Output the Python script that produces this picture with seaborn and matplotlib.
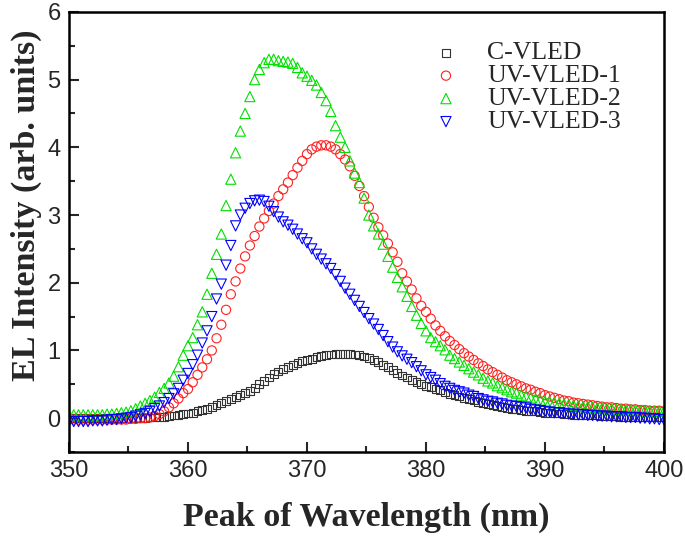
import numpy as np
import pandas as pd
import seaborn as sns
import matplotlib.pyplot as plt
from matplotlib.ticker import MultipleLocator

# wavelength grid (nm), one reading every 0.4 nm
wavelength = np.round(np.arange(350.0, 400.01, 0.4), 1)

# EL intensity (arb. units)
c_vled = [
    0.00, 0.00, 0.00, 0.00, 0.00, 0.00, 0.00, 0.00, 0.00, 0.00,
    0.00, 0.00, 0.00, 0.00, 0.00, 0.00, 0.00, 0.01, 0.01, 0.02,
    0.02, 0.03, 0.04, 0.05, 0.06, 0.07, 0.08, 0.10, 0.12, 0.14,
    0.17, 0.20, 0.22, 0.25, 0.28, 0.31, 0.34, 0.37, 0.40, 0.45,
    0.50, 0.55, 0.60, 0.65, 0.69, 0.72, 0.75, 0.78, 0.81, 0.84,
    0.86, 0.88, 0.90, 0.92, 0.93, 0.94, 0.95, 0.95, 0.95, 0.95,
    0.94, 0.93, 0.91, 0.89, 0.86, 0.83, 0.79, 0.75, 0.71, 0.67,
    0.63, 0.60, 0.57, 0.54, 0.51, 0.48, 0.46, 0.43, 0.41, 0.38,
    0.36, 0.34, 0.32, 0.30, 0.28, 0.26, 0.24, 0.22, 0.21, 0.19,
    0.18, 0.16, 0.15, 0.14, 0.13, 0.12, 0.11, 0.10, 0.10, 0.09,
    0.08, 0.08, 0.07, 0.07, 0.06, 0.06, 0.05, 0.05, 0.05, 0.04,
    0.04, 0.04, 0.03, 0.03, 0.03, 0.03, 0.02, 0.02, 0.02, 0.02,
    0.02, 0.01, 0.01, 0.01, 0.01, 0.01,
]
uv_vled_1 = [
    -0.02, -0.02, -0.02, -0.02, -0.02, -0.02, -0.02, -0.02, -0.02, -0.02,
    -0.02, -0.02, -0.02, -0.01, -0.01, 0.00, 0.00, 0.01, 0.03, 0.06,
    0.10, 0.16, 0.22, 0.29, 0.37, 0.43, 0.53, 0.64, 0.75, 0.87,
    1.00, 1.18, 1.38, 1.60, 1.83, 2.02, 2.21, 2.39, 2.55, 2.69,
    2.83, 2.95, 3.06, 3.17, 3.28, 3.38, 3.48, 3.59, 3.70, 3.80,
    3.90, 3.97, 4.01, 4.03, 4.03, 4.01, 3.97, 3.90, 3.82, 3.72,
    3.58, 3.43, 3.28, 3.12, 2.96, 2.82, 2.70, 2.58, 2.45, 2.31,
    2.14, 2.02, 1.90, 1.77, 1.66, 1.57, 1.47, 1.37, 1.29, 1.21,
    1.14, 1.08, 1.02, 0.96, 0.91, 0.86, 0.81, 0.77, 0.72, 0.68,
    0.64, 0.60, 0.56, 0.53, 0.50, 0.47, 0.44, 0.42, 0.39, 0.37,
    0.34, 0.32, 0.30, 0.28, 0.26, 0.25, 0.23, 0.22, 0.21, 0.20,
    0.19, 0.18, 0.17, 0.16, 0.16, 0.15, 0.14, 0.14, 0.13, 0.13,
    0.12, 0.12, 0.11, 0.11, 0.11, 0.10,
]
uv_vled_2 = [
    0.05, 0.05, 0.05, 0.05, 0.05, 0.05, 0.05, 0.05, 0.06, 0.06,
    0.07, 0.08, 0.09, 0.11, 0.14, 0.18, 0.22, 0.26, 0.31, 0.38,
    0.44, 0.52, 0.62, 0.76, 0.93, 1.07, 1.19, 1.38, 1.57, 1.83,
    2.14, 2.42, 2.72, 3.14, 3.53, 3.92, 4.24, 4.50, 4.75, 5.00,
    5.15, 5.25, 5.30, 5.30, 5.28, 5.27, 5.26, 5.24, 5.18, 5.10,
    5.05, 4.99, 4.92, 4.81, 4.69, 4.53, 4.32, 4.15, 4.00, 3.80,
    3.62, 3.48, 3.25, 3.00, 2.84, 2.72, 2.57, 2.39, 2.23, 2.08,
    1.94, 1.80, 1.65, 1.52, 1.40, 1.29, 1.19, 1.13, 1.07, 1.01,
    0.93, 0.88, 0.83, 0.78, 0.73, 0.68, 0.64, 0.59, 0.55, 0.52,
    0.48, 0.45, 0.42, 0.39, 0.37, 0.34, 0.32, 0.30, 0.28, 0.27,
    0.25, 0.24, 0.23, 0.22, 0.21, 0.20, 0.19, 0.18, 0.17, 0.17,
    0.16, 0.15, 0.15, 0.14, 0.14, 0.13, 0.13, 0.12, 0.12, 0.12,
    0.11, 0.11, 0.11, 0.10, 0.10, 0.10,
]
uv_vled_3 = [
    -0.05, -0.05, -0.05, -0.05, -0.05, -0.04, -0.04, -0.04, -0.03, -0.02,
    -0.02, -0.01, 0.00, 0.01, 0.03, 0.05, 0.07, 0.10, 0.14, 0.18,
    0.23, 0.29, 0.36, 0.44, 0.56, 0.66, 0.79, 0.93, 1.11, 1.29,
    1.50, 1.76, 1.98, 2.26, 2.55, 2.84, 3.00, 3.10, 3.17, 3.21,
    3.22, 3.20, 3.13, 3.05, 2.97, 2.90, 2.85, 2.79, 2.72, 2.65,
    2.59, 2.50, 2.42, 2.35, 2.28, 2.21, 2.12, 2.02, 1.92, 1.83,
    1.74, 1.65, 1.56, 1.47, 1.39, 1.31, 1.22, 1.13, 1.05, 0.98,
    0.92, 0.87, 0.82, 0.76, 0.70, 0.64, 0.60, 0.56, 0.51, 0.47,
    0.44, 0.41, 0.39, 0.37, 0.34, 0.32, 0.29, 0.27, 0.25, 0.24,
    0.22, 0.21, 0.19, 0.18, 0.17, 0.16, 0.15, 0.13, 0.12, 0.11,
    0.10, 0.09, 0.08, 0.08, 0.07, 0.06, 0.06, 0.05, 0.05, 0.04,
    0.04, 0.03, 0.03, 0.03, 0.02, 0.02, 0.02, 0.01, 0.01, 0.01,
    0.00, 0.00, -0.01, -0.01, -0.02, -0.02,
]

series_names = ['C-VLED', 'UV-VLED-1', 'UV-VLED-2', 'UV-VLED-3']
series_values = [c_vled, uv_vled_1, uv_vled_2, uv_vled_3]
colors = ['#333333', '#ff2020', '#00e000', '#0000ff']
markers = ['s', 'o', '^', 'v']
sizes = [32, 44, 54, 54]

sns.set_style('ticks')
plt.rcParams['font.family'] = ['Liberation Sans', 'DejaVu Sans']

fig = plt.figure(figsize=(6.85, 5.42), dpi=100)
ax = fig.add_axes([0.1007, 0.166, 0.8686, 0.812])

for name, vals, col, mk, sz in zip(series_names, series_values, colors, markers, sizes):
    df = pd.DataFrame({'wavelength': wavelength, 'intensity': vals})
    sns.scatterplot(data=df, x='wavelength', y='intensity', ax=ax, color=col,
                    marker=mk, s=sz, facecolors='none', edgecolor=col,
                    linewidth=0.8, label=name)

ax.set_xlim(350, 400)
ax.set_ylim(-0.5, 6)
ax.xaxis.set_major_locator(MultipleLocator(10))
ax.xaxis.set_minor_locator(MultipleLocator(5))
ax.yaxis.set_major_locator(MultipleLocator(1))
ax.yaxis.set_minor_locator(MultipleLocator(0.5))
ax.tick_params(which='both', direction='in', width=1.5, labelsize=17,
               top=False, right=False)
ax.tick_params(which='major', length=7, pad=6)
ax.tick_params(which='minor', length=4)
for sp in ax.spines.values():
    sp.set_linewidth(1.8)
    sp.set_color('black')

label_font = {'family': ['Liberation Serif'], 'weight': 'bold', 'size': 24.5}
ax.set_xlabel('Peak of Wavelength (nm)', fontdict=label_font)
ax.set_ylabel('EL Intensity (arb. units)', fontdict=label_font)
ax.xaxis.set_label_coords(0.5, -0.112)
ax.yaxis.set_label_coords(-0.045, 0.56)

leg = ax.legend(loc='upper left', bbox_to_anchor=(0.612, 0.933), frameon=False,
                prop={'family': 'Liberation Serif', 'size': 18.5},
                labelspacing=0.0, handletextpad=1.1, handlelength=1.0,
                borderaxespad=0, borderpad=0)

fig.savefig('out.png', dpi=100)
